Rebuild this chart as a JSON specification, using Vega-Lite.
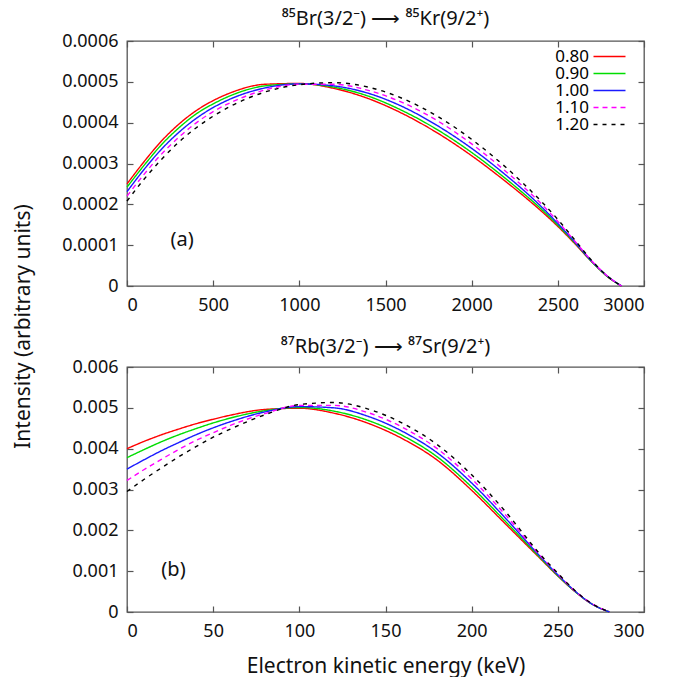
{
 "$schema": "https://vega.github.io/schema/vega-lite/v6.json",
 "background": "white",
 "padding": {"left": 11, "top": 8, "right": 5, "bottom": 0},
 "config": {
  "font": "Noto Sans",
  "view": {"stroke": "#555555", "strokeWidth": 1.3},
  "axis": {"domain": false, "grid": false, "labelFontSize": 18, "labelColor": "#111111", "tickColor": "#555555", "tickWidth": 1.2, "titleFontWeight": "normal", "titleFontSize": 21, "titleColor": "#111111"},
  "title": {"fontWeight": "normal", "fontSize": 20, "color": "#111111"}
 },
 "datasets": {
  "top": [
   {"E":0,"I":2.50e-4,"k":"0.80"},{"E":100,"I":3.05e-4,"k":"0.80"},{"E":200,"I":3.55e-4,"k":"0.80"},{"E":300,"I":3.96e-4,"k":"0.80"},{"E":400,"I":4.29e-4,"k":"0.80"},{"E":500,"I":4.54e-4,"k":"0.80"},{"E":600,"I":4.73e-4,"k":"0.80"},{"E":800,"I":4.94e-4,"k":"0.80"},{"E":1000,"I":4.96e-4,"k":"0.80"},{"E":1200,"I":4.84e-4,"k":"0.80"},{"E":1400,"I":4.59e-4,"k":"0.80"},{"E":1600,"I":4.22e-4,"k":"0.80"},{"E":1800,"I":3.75e-4,"k":"0.80"},{"E":2000,"I":3.19e-4,"k":"0.80"},{"E":2200,"I":2.55e-4,"k":"0.80"},{"E":2300,"I":2.21e-4,"k":"0.80"},{"E":2400,"I":1.85e-4,"k":"0.80"},{"E":2500,"I":1.46e-4,"k":"0.80"},{"E":2600,"I":1.03e-4,"k":"0.80"},{"E":2700,"I":0.58e-4,"k":"0.80"},{"E":2800,"I":0.19e-4,"k":"0.80"},{"E":2870,"I":0,"k":"0.80"},
   {"E":0,"I":2.42e-4,"k":"0.90"},{"E":100,"I":2.96e-4,"k":"0.90"},{"E":200,"I":3.46e-4,"k":"0.90"},{"E":300,"I":3.87e-4,"k":"0.90"},{"E":400,"I":4.21e-4,"k":"0.90"},{"E":500,"I":4.46e-4,"k":"0.90"},{"E":600,"I":4.66e-4,"k":"0.90"},{"E":800,"I":4.90e-4,"k":"0.90"},{"E":1000,"I":4.95e-4,"k":"0.90"},{"E":1200,"I":4.87e-4,"k":"0.90"},{"E":1400,"I":4.65e-4,"k":"0.90"},{"E":1600,"I":4.29e-4,"k":"0.90"},{"E":1800,"I":3.83e-4,"k":"0.90"},{"E":2000,"I":3.27e-4,"k":"0.90"},{"E":2200,"I":2.62e-4,"k":"0.90"},{"E":2300,"I":2.27e-4,"k":"0.90"},{"E":2400,"I":1.90e-4,"k":"0.90"},{"E":2500,"I":1.49e-4,"k":"0.90"},{"E":2600,"I":1.05e-4,"k":"0.90"},{"E":2700,"I":0.58e-4,"k":"0.90"},{"E":2800,"I":0.19e-4,"k":"0.90"},{"E":2870,"I":0,"k":"0.90"},
   {"E":0,"I":2.31e-4,"k":"1.00"},{"E":100,"I":2.86e-4,"k":"1.00"},{"E":200,"I":3.35e-4,"k":"1.00"},{"E":300,"I":3.76e-4,"k":"1.00"},{"E":400,"I":4.10e-4,"k":"1.00"},{"E":500,"I":4.37e-4,"k":"1.00"},{"E":600,"I":4.58e-4,"k":"1.00"},{"E":800,"I":4.85e-4,"k":"1.00"},{"E":1000,"I":4.95e-4,"k":"1.00"},{"E":1200,"I":4.90e-4,"k":"1.00"},{"E":1400,"I":4.72e-4,"k":"1.00"},{"E":1600,"I":4.39e-4,"k":"1.00"},{"E":1800,"I":3.93e-4,"k":"1.00"},{"E":2000,"I":3.37e-4,"k":"1.00"},{"E":2200,"I":2.71e-4,"k":"1.00"},{"E":2300,"I":2.35e-4,"k":"1.00"},{"E":2400,"I":1.96e-4,"k":"1.00"},{"E":2500,"I":1.53e-4,"k":"1.00"},{"E":2600,"I":1.07e-4,"k":"1.00"},{"E":2700,"I":0.59e-4,"k":"1.00"},{"E":2800,"I":0.20e-4,"k":"1.00"},{"E":2870,"I":0,"k":"1.00"},
   {"E":0,"I":2.20e-4,"k":"1.10"},{"E":100,"I":2.74e-4,"k":"1.10"},{"E":200,"I":3.23e-4,"k":"1.10"},{"E":300,"I":3.64e-4,"k":"1.10"},{"E":400,"I":3.99e-4,"k":"1.10"},{"E":500,"I":4.27e-4,"k":"1.10"},{"E":600,"I":4.49e-4,"k":"1.10"},{"E":800,"I":4.80e-4,"k":"1.10"},{"E":1000,"I":4.94e-4,"k":"1.10"},{"E":1200,"I":4.94e-4,"k":"1.10"},{"E":1400,"I":4.79e-4,"k":"1.10"},{"E":1600,"I":4.49e-4,"k":"1.10"},{"E":1800,"I":4.05e-4,"k":"1.10"},{"E":2000,"I":3.48e-4,"k":"1.10"},{"E":2200,"I":2.80e-4,"k":"1.10"},{"E":2300,"I":2.43e-4,"k":"1.10"},{"E":2400,"I":2.03e-4,"k":"1.10"},{"E":2500,"I":1.58e-4,"k":"1.10"},{"E":2600,"I":1.09e-4,"k":"1.10"},{"E":2700,"I":0.60e-4,"k":"1.10"},{"E":2800,"I":0.20e-4,"k":"1.10"},{"E":2870,"I":0,"k":"1.10"},
   {"E":0,"I":2.08e-4,"k":"1.20"},{"E":100,"I":2.62e-4,"k":"1.20"},{"E":200,"I":3.10e-4,"k":"1.20"},{"E":300,"I":3.52e-4,"k":"1.20"},{"E":400,"I":3.87e-4,"k":"1.20"},{"E":500,"I":4.16e-4,"k":"1.20"},{"E":600,"I":4.40e-4,"k":"1.20"},{"E":800,"I":4.75e-4,"k":"1.20"},{"E":1000,"I":4.93e-4,"k":"1.20"},{"E":1200,"I":4.98e-4,"k":"1.20"},{"E":1400,"I":4.87e-4,"k":"1.20"},{"E":1600,"I":4.59e-4,"k":"1.20"},{"E":1800,"I":4.16e-4,"k":"1.20"},{"E":2000,"I":3.59e-4,"k":"1.20"},{"E":2200,"I":2.90e-4,"k":"1.20"},{"E":2300,"I":2.51e-4,"k":"1.20"},{"E":2400,"I":2.09e-4,"k":"1.20"},{"E":2500,"I":1.63e-4,"k":"1.20"},{"E":2600,"I":1.12e-4,"k":"1.20"},{"E":2700,"I":0.61e-4,"k":"1.20"},{"E":2800,"I":0.20e-4,"k":"1.20"},{"E":2870,"I":0,"k":"1.20"}
  ],
  "bottom": [
   {"E":0,"I":4.00e-3,"k":"0.80"},{"E":10,"I":4.18e-3,"k":"0.80"},{"E":20,"I":4.34e-3,"k":"0.80"},{"E":30,"I":4.48e-3,"k":"0.80"},{"E":40,"I":4.61e-3,"k":"0.80"},{"E":50,"I":4.72e-3,"k":"0.80"},{"E":60,"I":4.82e-3,"k":"0.80"},{"E":80,"I":4.96e-3,"k":"0.80"},{"E":100,"I":4.99e-3,"k":"0.80"},{"E":120,"I":4.87e-3,"k":"0.80"},{"E":140,"I":4.62e-3,"k":"0.80"},{"E":160,"I":4.24e-3,"k":"0.80"},{"E":180,"I":3.72e-3,"k":"0.80"},{"E":200,"I":2.98e-3,"k":"0.80"},{"E":220,"I":2.14e-3,"k":"0.80"},{"E":240,"I":1.30e-3,"k":"0.80"},{"E":250,"I":0.88e-3,"k":"0.80"},{"E":260,"I":0.50e-3,"k":"0.80"},{"E":270,"I":0.19e-3,"k":"0.80"},{"E":280,"I":0,"k":"0.80"},
   {"E":0,"I":3.78e-3,"k":"0.90"},{"E":10,"I":3.98e-3,"k":"0.90"},{"E":20,"I":4.17e-3,"k":"0.90"},{"E":30,"I":4.34e-3,"k":"0.90"},{"E":40,"I":4.49e-3,"k":"0.90"},{"E":50,"I":4.63e-3,"k":"0.90"},{"E":60,"I":4.75e-3,"k":"0.90"},{"E":80,"I":4.93e-3,"k":"0.90"},{"E":100,"I":5.01e-3,"k":"0.90"},{"E":120,"I":4.92e-3,"k":"0.90"},{"E":140,"I":4.69e-3,"k":"0.90"},{"E":160,"I":4.32e-3,"k":"0.90"},{"E":180,"I":3.80e-3,"k":"0.90"},{"E":200,"I":3.06e-3,"k":"0.90"},{"E":220,"I":2.20e-3,"k":"0.90"},{"E":240,"I":1.32e-3,"k":"0.90"},{"E":250,"I":0.89e-3,"k":"0.90"},{"E":260,"I":0.50e-3,"k":"0.90"},{"E":270,"I":0.19e-3,"k":"0.90"},{"E":280,"I":0,"k":"0.90"},
   {"E":0,"I":3.50e-3,"k":"1.00"},{"E":10,"I":3.73e-3,"k":"1.00"},{"E":20,"I":3.95e-3,"k":"1.00"},{"E":30,"I":4.15e-3,"k":"1.00"},{"E":40,"I":4.34e-3,"k":"1.00"},{"E":50,"I":4.51e-3,"k":"1.00"},{"E":60,"I":4.66e-3,"k":"1.00"},{"E":80,"I":4.90e-3,"k":"1.00"},{"E":100,"I":5.03e-3,"k":"1.00"},{"E":120,"I":5.00e-3,"k":"1.00"},{"E":140,"I":4.79e-3,"k":"1.00"},{"E":160,"I":4.42e-3,"k":"1.00"},{"E":180,"I":3.90e-3,"k":"1.00"},{"E":200,"I":3.16e-3,"k":"1.00"},{"E":220,"I":2.28e-3,"k":"1.00"},{"E":240,"I":1.35e-3,"k":"1.00"},{"E":250,"I":0.91e-3,"k":"1.00"},{"E":260,"I":0.51e-3,"k":"1.00"},{"E":270,"I":0.19e-3,"k":"1.00"},{"E":280,"I":0,"k":"1.00"},
   {"E":0,"I":3.22e-3,"k":"1.10"},{"E":10,"I":3.49e-3,"k":"1.10"},{"E":20,"I":3.74e-3,"k":"1.10"},{"E":30,"I":3.98e-3,"k":"1.10"},{"E":40,"I":4.20e-3,"k":"1.10"},{"E":50,"I":4.39e-3,"k":"1.10"},{"E":60,"I":4.57e-3,"k":"1.10"},{"E":80,"I":4.86e-3,"k":"1.10"},{"E":100,"I":5.06e-3,"k":"1.10"},{"E":120,"I":5.06e-3,"k":"1.10"},{"E":140,"I":4.88e-3,"k":"1.10"},{"E":160,"I":4.52e-3,"k":"1.10"},{"E":180,"I":4.00e-3,"k":"1.10"},{"E":200,"I":3.26e-3,"k":"1.10"},{"E":220,"I":2.36e-3,"k":"1.10"},{"E":240,"I":1.37e-3,"k":"1.10"},{"E":250,"I":0.93e-3,"k":"1.10"},{"E":260,"I":0.51e-3,"k":"1.10"},{"E":270,"I":0.20e-3,"k":"1.10"},{"E":280,"I":0,"k":"1.10"},
   {"E":0,"I":2.95e-3,"k":"1.20"},{"E":10,"I":3.25e-3,"k":"1.20"},{"E":20,"I":3.53e-3,"k":"1.20"},{"E":30,"I":3.80e-3,"k":"1.20"},{"E":40,"I":4.05e-3,"k":"1.20"},{"E":50,"I":4.28e-3,"k":"1.20"},{"E":60,"I":4.48e-3,"k":"1.20"},{"E":80,"I":4.83e-3,"k":"1.20"},{"E":100,"I":5.08e-3,"k":"1.20"},{"E":120,"I":5.13e-3,"k":"1.20"},{"E":140,"I":4.97e-3,"k":"1.20"},{"E":160,"I":4.62e-3,"k":"1.20"},{"E":180,"I":4.10e-3,"k":"1.20"},{"E":200,"I":3.36e-3,"k":"1.20"},{"E":220,"I":2.44e-3,"k":"1.20"},{"E":240,"I":1.40e-3,"k":"1.20"},{"E":250,"I":0.95e-3,"k":"1.20"},{"E":260,"I":0.52e-3,"k":"1.20"},{"E":270,"I":0.20e-3,"k":"1.20"},{"E":280,"I":0,"k":"1.20"}
  ]
 },
 "bounds": "flush",
 "spacing": 81,
 "resolve": {"legend": {"color": "independent", "strokeDash": "independent"}},
 "vconcat": [
  {
   "width": 517, "height": 245,
   "title": {"text": "⁸⁵Br(3/2⁻) ⟶ ⁸⁵Kr(9/2⁺)", "offset": 3},
   "layer": [
    {
     "data": {"name": "top"},
     "mark": {"type": "line", "strokeWidth": 1.4, "interpolate": "monotone"},
     "encoding": {
      "x": {"field": "E", "type": "quantitative", "scale": {"domain": [0, 3000], "nice": false},
            "axis": {"orient": "bottom", "values": [0, 500, 1000, 1500, 2000, 2500, 3000], "format": "d", "title": null, "tickSize": -6, "labelPadding": 16}},
      "y": {"field": "I", "type": "quantitative", "scale": {"domain": [0, 0.0006], "nice": false},
            "axis": {"orient": "left", "values": [0, 0.0001, 0.0002, 0.0003, 0.0004, 0.0005, 0.0006], "format": ".4~f", "tickSize": -6, "labelPadding": 15,
                     "title": "Intensity (arbitrary units)", "titleX": -104, "titleY": 285, "titleAngle": -90, "titleBaseline": "middle", "titleAlign": "center"}},
      "color": {"field": "k", "type": "nominal",
                "scale": {"domain": ["0.80", "0.90", "1.00", "1.10", "1.20"], "range": ["#ff0000", "#00dd00", "#1a1aff", "#ff00ff", "#000000"]},
                "legend": {"title": null, "orient": "none", "legendX": 417, "legendY": 7, "labelFontSize": 17, "labelAlign": "right", "labelOffset": -29, "symbolOffset": 57, "symbolType": "M-4,0H4", "symbolSize": 64, "symbolStrokeWidth": 1.5, "rowPadding": -2.5, "padding": 0}},
      "strokeDash": {"field": "k", "type": "nominal",
                     "scale": {"domain": ["0.80", "0.90", "1.00", "1.10", "1.20"], "range": [[1, 0], [1, 0], [1, 0], [5, 4], [4, 5]]},
                     "legend": {"title": null, "orient": "none", "legendX": 417, "legendY": 7, "labelFontSize": 17, "labelAlign": "right", "labelOffset": -29, "symbolOffset": 57, "symbolType": "M-4,0H4", "symbolSize": 64, "symbolStrokeWidth": 1.5, "rowPadding": -2.5, "padding": 0}}
     }
    },
    {
     "data": {"name": "top"},
     "mark": {"type": "line", "strokeOpacity": 0},
     "encoding": {
      "x": {"field": "E", "type": "quantitative", "axis": {"orient": "top", "values": [0, 500, 1000, 1500, 2000, 2500, 3000], "labels": false, "title": null, "tickSize": -6}},
      "y": {"field": "I", "type": "quantitative", "axis": {"orient": "right", "values": [0, 0.0001, 0.0002, 0.0003, 0.0004, 0.0005, 0.0006], "labels": false, "title": null, "tickSize": -6}}
     }
    },
    {
     "data": {"values": [{"label": "(a)", "E": 320, "I": 0.000113}]},
     "mark": {"type": "text", "fontSize": 20, "color": "#111111"},
     "encoding": {
      "x": {"field": "E", "type": "quantitative", "axis": null},
      "y": {"field": "I", "type": "quantitative", "axis": null},
      "text": {"field": "label"}
     }
    }
   ],
   "resolve": {"axis": {"x": "independent", "y": "independent"}}
  },
  {
   "width": 517, "height": 245,
   "title": {"text": "⁸⁷Rb(3/2⁻) ⟶ ⁸⁷Sr(9/2⁺)", "offset": 1},
   "layer": [
    {
     "data": {"name": "bottom"},
     "mark": {"type": "line", "strokeWidth": 1.4, "interpolate": "monotone"},
     "encoding": {
      "x": {"field": "E", "type": "quantitative", "scale": {"domain": [0, 300], "nice": false},
            "axis": {"orient": "bottom", "values": [0, 50, 100, 150, 200, 250, 300], "format": "d", "title": "Electron kinetic energy (keV)", "tickSize": -6, "labelPadding": 16, "titlePadding": 15}},
      "y": {"field": "I", "type": "quantitative", "scale": {"domain": [0, 0.006], "nice": false},
            "axis": {"orient": "left", "values": [0, 0.001, 0.002, 0.003, 0.004, 0.005, 0.006], "format": ".3~f", "tickSize": -6, "labelPadding": 15, "title": null}},
      "color": {"field": "k", "type": "nominal",
                "scale": {"domain": ["0.80", "0.90", "1.00", "1.10", "1.20"], "range": ["#ff0000", "#00dd00", "#1a1aff", "#ff00ff", "#000000"]},
                "legend": null},
      "strokeDash": {"field": "k", "type": "nominal",
                     "scale": {"domain": ["0.80", "0.90", "1.00", "1.10", "1.20"], "range": [[1, 0], [1, 0], [1, 0], [5, 4], [4, 5]]},
                     "legend": null}
     }
    },
    {
     "data": {"name": "bottom"},
     "mark": {"type": "line", "strokeOpacity": 0},
     "encoding": {
      "x": {"field": "E", "type": "quantitative", "axis": {"orient": "top", "values": [0, 50, 100, 150, 200, 250, 300], "labels": false, "title": null, "tickSize": -6}},
      "y": {"field": "I", "type": "quantitative", "axis": {"orient": "right", "values": [0, 0.001, 0.002, 0.003, 0.004, 0.005, 0.006], "labels": false, "title": null, "tickSize": -6}}
     }
    },
    {
     "data": {"values": [{"label": "(b)", "E": 27, "I": 0.00104}]},
     "mark": {"type": "text", "fontSize": 20, "color": "#111111"},
     "encoding": {
      "x": {"field": "E", "type": "quantitative", "axis": null},
      "y": {"field": "I", "type": "quantitative", "axis": null},
      "text": {"field": "label"}
     }
    }
   ],
   "resolve": {"axis": {"x": "independent", "y": "independent"}}
  }
 ]
}
